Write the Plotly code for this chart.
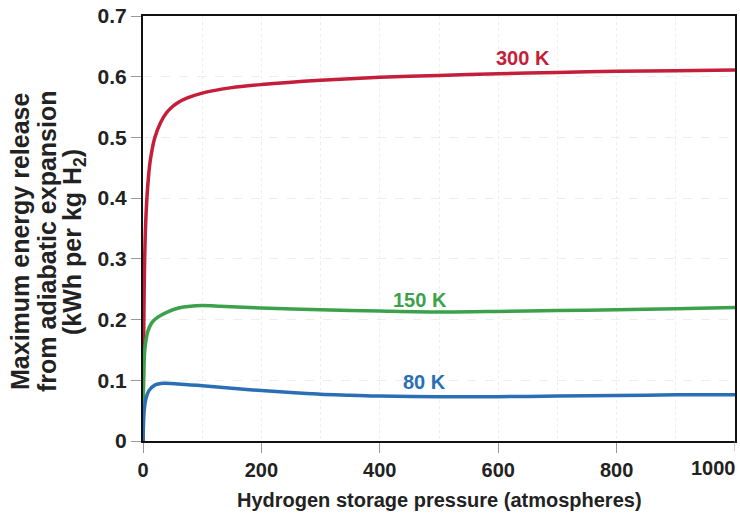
import plotly.graph_objects as go

# Data
x_300 = [0, 1, 2, 3, 5, 8, 12, 20, 30, 40, 50, 60, 75, 100, 150, 200, 300, 400, 500, 600, 700, 800, 900, 1000]
y_300 = [0, 0.15, 0.25, 0.31, 0.37, 0.42, 0.46, 0.50, 0.525, 0.541, 0.551, 0.558, 0.565, 0.573, 0.582, 0.587, 0.594, 0.599, 0.602, 0.605, 0.607, 0.609, 0.610, 0.611]

x_150 = [0, 1, 3, 8, 15, 25, 40, 60, 80, 100, 130, 200, 300, 400, 500, 600, 700, 800, 900, 1000]
y_150 = [0, 0.10, 0.15, 0.18, 0.195, 0.204, 0.212, 0.219, 0.222, 0.223, 0.222, 0.219, 0.216, 0.214, 0.2125, 0.2135, 0.215, 0.216, 0.218, 0.220]

x_80 = [0, 2, 5, 10, 20, 35, 60, 100, 150, 200, 250, 300, 350, 400, 500, 600, 700, 800, 900, 1000]
y_80 = [0, 0.05, 0.07, 0.083, 0.092, 0.095, 0.094, 0.091, 0.087, 0.083, 0.080, 0.077, 0.0755, 0.074, 0.073, 0.073, 0.074, 0.075, 0.076, 0.076]

series_names = ["300 K", "150 K", "80 K"]
series_colors = ["#C41E3A", "#3BA24B", "#2A6FB6"]
label_x = [642, 468, 476]
label_y = [0.631, 0.232, 0.097]

x_ticks = [0, 200, 400, 600, 800]
x_last_tick = 1000
y_ticks = [0, 0.1, 0.2, 0.3, 0.4, 0.5, 0.6, 0.7]
y_tick_text = ["0", "0.1", "0.2", "0.3", "0.4", "0.5", "0.6", "0.7"]
x_title = "Hydrogen storage pressure (atmospheres)"
y_title_lines = ["Maximum energy release", "from adiabatic expansion", "(kWh per kg H<sub>2</sub>)"]

FONT = "Liberation Sans, Arial, sans-serif"
W, H = 740, 518
L, R, T, B = 143, 5, 16, 77
PW = W - L - R
PH = H - T - B

fig = go.Figure()
for xs, ys, name, col in zip([x_300, x_150, x_80], [y_300, y_150, y_80], series_names, series_colors):
    fig.add_trace(go.Scatter(x=xs, y=ys, mode="lines", name=name,
                             line=dict(color=col, width=3.5, shape="spline", smoothing=0.8)))

for name, col, lx, ly in zip(series_names, series_colors, label_x, label_y):
    fig.add_annotation(x=lx, y=ly, text=f"<b>{name}</b>", showarrow=False,
                       font=dict(family=FONT, size=20, color=col))

# last x tick label, kept inside the figure like the reference
fig.add_annotation(x=x_last_tick, y=0, xref="x", yref="paper", text=f"<b>{x_last_tick}</b>",
                   showarrow=False, xanchor="right", yanchor="top", xshift=3, yshift=-14,
                   font=dict(family=FONT, size=20, color="#222222"))
fig.add_shape(type="line", xref="x", yref="paper", x0=x_last_tick, x1=x_last_tick,
              ysizemode="pixel", yanchor=0, y0=0, y1=-10,
              line=dict(color="#999999", width=1))

# x title
fig.add_annotation(x=0.5, y=0, xref="paper", yref="paper", text=f"<b>{x_title}</b>",
                   showarrow=False, xanchor="center", yanchor="middle", yshift=-59,
                   font=dict(family=FONT, size=20, color="#222222"))

# y title: three rotated lines
for px, line in zip([20, 47, 74], y_title_lines):
    fig.add_annotation(x=(px - L) / PW, y=(H - B - 242) / PH, xref="paper", yref="paper",
                       text=f"<b>{line}</b>", textangle=-90, showarrow=False,
                       xanchor="center", yanchor="middle",
                       font=dict(family=FONT, size=25, color="#222222"))

fig.update_layout(
    width=W, height=H,
    margin=dict(l=L, r=R, t=T, b=B),
    plot_bgcolor="white", paper_bgcolor="white",
    showlegend=False,
    font=dict(family=FONT, size=20, color="#222222"),
)
fig.update_xaxes(
    range=[0, 1000], tickvals=x_ticks,
    ticktext=[f"<b>{v}</b>" for v in x_ticks],
    showline=True, linecolor="#111111", linewidth=2, mirror=True,
    ticks="outside", ticklen=10, tickcolor="#999999",
    showgrid=True, gridcolor="#EEEEEE", griddash="dot", gridwidth=1,
    minor=dict(dtick=100, showgrid=True, gridcolor="#EEEEEE", griddash="dot"),
    zeroline=False, automargin=False,
)
fig.update_yaxes(
    range=[0, 0.7], tickvals=y_ticks,
    ticktext=[f"<b>{t}</b>" for t in y_tick_text],
    showline=True, linecolor="#111111", linewidth=2, mirror=True,
    ticks="outside", ticklen=10, tickcolor="#999999",
    showgrid=True, gridcolor="#EEEEEE", griddash="dash", gridwidth=1,
    zeroline=False, automargin=False,
    tickfont=dict(size=21),
)

fig.write_html("out.html",
               config={"displayModeBar": False},
               post_script="document.body.style.margin='0';document.body.style.overflow='hidden';")
